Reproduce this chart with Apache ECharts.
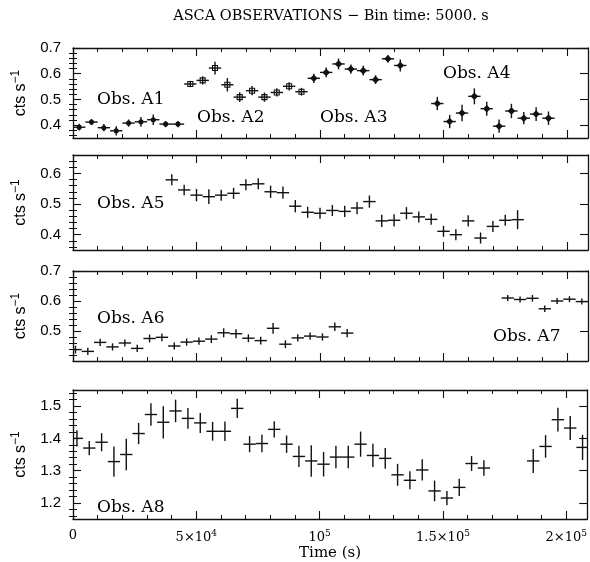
<!DOCTYPE html>
<html><head><meta charset="utf-8">
<script src="https://cdn.jsdelivr.net/npm/echarts@6/dist/echarts.min.js"></script>
<style>html,body{margin:0;padding:0;background:#fff}#c{width:590px;height:562px}</style>
</head><body><div id="c"></div>
<script>
// ---------- data ----------
const timeA1 = [2500,7500,12500,17500,22500,27500,32500,37500,42500];
const rateA1 = [0.392,0.412,0.390,0.378,0.408,0.413,0.421,0.404,0.404];
const errA1  = [0.013,0.012,0.014,0.018,0.014,0.019,0.020,0.012,0.012];

const timeA2 = [47500,52500,57500,62500,67500,72500,77500,82500,87500,92500];
const rateA2 = [0.560,0.574,0.622,0.557,0.509,0.534,0.509,0.527,0.551,0.530];
const errA2  = [0.012,0.016,0.025,0.026,0.019,0.018,0.018,0.016,0.016,0.015];

const timeA3 = [97500,102500,107500,112500,117500,122500,127500,132500];
const rateA3 = [0.582,0.605,0.638,0.618,0.612,0.577,0.658,0.632];
const errA3  = [0.018,0.019,0.021,0.018,0.019,0.017,0.014,0.023];

const timeA4 = [147500,152500,157500,162500,167500,172500,177500,182500,187500,192500];
const rateA4 = [0.484,0.414,0.447,0.512,0.464,0.396,0.455,0.427,0.443,0.427];
const errA4  = [0.026,0.026,0.032,0.031,0.027,0.026,0.028,0.024,0.027,0.026];

const timeA5 = [40000,45000,50000,55000,60000,65000,70000,75000,80000,85000,90000,95000,100000,105000,110000,115000,120000,125000,130000,135000,140000,145000,150000,155000,160000,165000,170000,175000,180000];
const rateA5 = [0.579,0.546,0.529,0.524,0.529,0.535,0.563,0.566,0.540,0.537,0.493,0.473,0.470,0.479,0.476,0.487,0.508,0.445,0.447,0.470,0.458,0.450,0.411,0.400,0.445,0.389,0.427,0.447,0.449];
const errA5  = [0.018,0.017,0.020,0.024,0.018,0.018,0.018,0.018,0.020,0.020,0.020,0.018,0.018,0.018,0.018,0.020,0.020,0.020,0.020,0.020,0.018,0.018,0.018,0.018,0.018,0.018,0.018,0.018,0.031];

const timeA6 = [1000,6000,11000,16000,21000,26000,31000,36000,41000,46000,51000,56000,61000,66000,71000,76000,81000,86000,91000,96000,101000,106000,111000];
const rateA6 = [0.438,0.432,0.462,0.447,0.460,0.442,0.475,0.479,0.450,0.463,0.466,0.473,0.494,0.491,0.476,0.468,0.509,0.456,0.477,0.483,0.480,0.514,0.493];
const errA6  = [0.013,0.012,0.012,0.012,0.012,0.012,0.013,0.013,0.012,0.012,0.012,0.013,0.015,0.015,0.013,0.013,0.018,0.013,0.012,0.012,0.012,0.014,0.014];

const timeA7 = [176000,181000,186000,191000,196000,201000,206000];
const rateA7 = [0.610,0.605,0.609,0.574,0.600,0.606,0.598];
const errA7  = [0.010,0.010,0.011,0.011,0.010,0.010,0.010];

const timeA8 = [1600,6600,11600,16600,21600,26600,31600,36600,41600,46600,51600,56600,61600,66600,71600,76600,81600,86600,91600,96600,101600,106600,111600,116600,121600,126600,131600,136600,141600,146600,151600,156600,161600,166600,186600,191600,196600,201600,206600];
const rateA8 = [1.400,1.370,1.388,1.328,1.350,1.415,1.474,1.450,1.485,1.462,1.448,1.422,1.422,1.493,1.382,1.384,1.428,1.382,1.344,1.330,1.320,1.342,1.342,1.382,1.347,1.338,1.287,1.270,1.302,1.237,1.215,1.248,1.322,1.308,1.330,1.375,1.458,1.432,1.372];
const errA8  = [0.025,0.022,0.028,0.047,0.049,0.033,0.035,0.050,0.035,0.032,0.031,0.029,0.030,0.030,0.025,0.027,0.025,0.027,0.033,0.049,0.038,0.035,0.035,0.039,0.036,0.032,0.034,0.028,0.033,0.032,0.022,0.027,0.023,0.024,0.037,0.035,0.037,0.037,0.039];

const halfBin = 2500;

const xMajorTicks = [0, 50000, 100000, 150000, 200000];
const xTickLabels = ['0', '5×10{sup|4}', '10{sup|5}', '1.5×10{sup|5}', '2×10{sup|5}'];
const yMajorTicks = [
  [0.4, 0.5, 0.6, 0.7],
  [0.4, 0.5, 0.6],
  [0.5, 0.6, 0.7],
  [1.2, 1.3, 1.4, 1.5]
];
const obsLabels = ['Obs. A1','Obs. A2','Obs. A3','Obs. A4','Obs. A5','Obs. A6','Obs. A7','Obs. A8'];
const titleText = 'ASCA OBSERVATIONS \u2212 Bin time: 5000. s';
const yTitle = 'cts s{sup|\u22121}';
const xTitle = 'Time (s)';

// ---------- layout ----------
const XMAX = 208500;
const panels = [
  {top: 48, height: 90, ymin: 0.35, ymax: 0.70, minorStep: 0.02},
  {top: 155, height: 95, ymin: 0.35, ymax: 0.66, minorStep: 0.02},
  {top: 271, height: 90, ymin: 0.40, ymax: 0.70, minorStep: 0.02},
  {top: 390, height: 135, ymin: 1.15, ymax: 1.55, minorStep: 0.02}
];
function minorList(lo, hi, step, majors) {
  const out = [];
  const start = Math.ceil(lo / step - 1e-6);
  for (let k = start; k * step <= hi + 1e-9; k++) {
    const v = +(k * step).toFixed(6);
    if (v <= lo + 1e-9 || v >= hi - 1e-9) continue;
    if (majors.some(m => Math.abs(m - v) < 1e-6)) continue;
    out.push(v);
  }
  return out;
}
const xMinorTicks = minorList(0, XMAX, 10000, xMajorTicks);

const INK = '#111';
const grids = [], xAxes = [], yAxes = [];
panels.forEach((p, i) => {
  grids.push({left: 73, right: 2, top: p.top, height: p.height});
  const last = i === 3;
  const base = {type: 'value', gridIndex: i, min: 0, max: XMAX, splitLine: {show: false}};
  xAxes.push(Object.assign({}, base, {
    position: 'bottom',
    axisLine: {show: true, onZero: false, lineStyle: {color: INK, width: 1.3}},
    axisTick: {show: true, inside: true, length: 8, customValues: xMajorTicks, lineStyle: {color: INK, width: 1.1}},
    axisLabel: last ? {
      show: true, customValues: xMajorTicks, margin: 10, color: '#000',
      fontFamily: 'DejaVu Serif', fontSize: 13,
      formatter: v => { const k = xMajorTicks.indexOf(v); return k >= 0 ? xTickLabels[k] : ''; },
      rich: {sup: {fontSize: 9, fontFamily: 'DejaVu Serif', padding: [0, 0, 8, 0], color: '#000'}}
    } : {show: false},
    name: last ? xTitle : '', nameLocation: 'middle', nameGap: 27,
    nameTextStyle: {fontFamily: 'DejaVu Serif', fontSize: 15, color: '#000'}
  }));
  xAxes.push(Object.assign({}, base, {
    position: 'bottom', axisLine: {show: false}, axisLabel: {show: false},
    axisTick: {show: true, inside: true, length: 4, customValues: xMinorTicks, lineStyle: {color: INK, width: 1}}
  }));
  xAxes.push(Object.assign({}, base, {
    position: 'top',
    axisLine: {show: true, onZero: false, lineStyle: {color: INK, width: 1.3}},
    axisTick: {show: true, inside: true, length: 8, customValues: xMajorTicks, lineStyle: {color: INK, width: 1.1}},
    axisLabel: {show: false}
  }));
  xAxes.push(Object.assign({}, base, {
    position: 'top', axisLine: {show: false}, axisLabel: {show: false},
    axisTick: {show: true, inside: true, length: 4, customValues: xMinorTicks, lineStyle: {color: INK, width: 1}}
  }));

  const ybase = {type: 'value', gridIndex: i, min: p.ymin, max: p.ymax, splitLine: {show: false}};
  const yMinor = minorList(p.ymin, p.ymax, p.minorStep, yMajorTicks[i]);
  yAxes.push(Object.assign({}, ybase, {
    position: 'left',
    axisLine: {show: true, onZero: false, lineStyle: {color: INK, width: 1.3}},
    axisTick: {show: true, inside: true, length: 8, customValues: yMajorTicks[i], lineStyle: {color: INK, width: 1.1}},
    axisLabel: {show: true, customValues: yMajorTicks[i], margin: 12, color: '#000',
      fontFamily: 'Liberation Sans', fontSize: 15, formatter: v => v.toFixed(1)},
    name: yTitle, nameLocation: 'middle', nameGap: 41, nameRotate: 90,
    nameTextStyle: {fontFamily: 'Liberation Sans', fontSize: 16, color: '#000',
      rich: {sup: {fontFamily: 'Liberation Sans', fontSize: 12, padding: [0, 0, 10, 0], color: '#000'}}}
  }));
  yAxes.push(Object.assign({}, ybase, {
    position: 'left', axisLine: {show: false}, axisLabel: {show: false},
    axisTick: {show: true, inside: true, length: 4, customValues: yMinor, lineStyle: {color: INK, width: 1}}
  }));
  yAxes.push(Object.assign({}, ybase, {
    position: 'right',
    axisLine: {show: true, onZero: false, lineStyle: {color: INK, width: 1.3}},
    axisTick: {show: true, inside: true, length: 8, customValues: yMajorTicks[i], lineStyle: {color: INK, width: 1.1}},
    axisLabel: {show: false}
  }));
  yAxes.push(Object.assign({}, ybase, {
    position: 'right', axisLine: {show: false}, axisLabel: {show: false},
    axisTick: {show: true, inside: true, length: 4, customValues: yMinor, lineStyle: {color: INK, width: 1}}
  }));
});

function errData(t, r, e) { return t.map((x, k) => [x, r[k], halfBin, e[k]]); }
function errRender(params, api) {
  const x = api.value(0), y = api.value(1), ex = api.value(2), ey = api.value(3);
  const l = api.coord([x - ex, y]), r = api.coord([x + ex, y]);
  const t = api.coord([x, y + ey]), b = api.coord([x, y - ey]);
  const st = {stroke: INK, lineWidth: 1.4};
  return {type: 'group', children: [
    {type: 'line', shape: {x1: l[0], y1: l[1], x2: r[0], y2: r[1]}, style: st},
    {type: 'line', shape: {x1: t[0], y1: t[1], x2: b[0], y2: b[1]}, style: st}
  ]};
}
function errSeries(panel, t, r, e) {
  return {type: 'custom', xAxisIndex: panel * 4, yAxisIndex: panel * 4, clip: true,
    renderItem: errRender, data: errData(t, r, e), silent: true, animation: false};
}
function markSeries(t, r, symbol, size, fill) {
  return {type: 'scatter', xAxisIndex: 0, yAxisIndex: 0, symbol: symbol, symbolSize: size,
    itemStyle: {color: fill, borderColor: INK, borderWidth: 1.1, opacity: 1},
    data: t.map((x, k) => [x, r[k]]), silent: true, animation: false, z: 5};
}

const series = [
  errSeries(0, timeA1, rateA1, errA1),
  errSeries(0, timeA2, rateA2, errA2),
  errSeries(0, timeA3, rateA3, errA3),
  errSeries(0, timeA4, rateA4, errA4),
  markSeries(timeA1, rateA1, 'circle', 4, INK),
  markSeries(timeA2, rateA2, 'rect', 5, 'rgba(0,0,0,0)'),
  markSeries(timeA3, rateA3, 'diamond', 6, INK),
  markSeries(timeA4, rateA4, 'diamond', 6, INK),
  errSeries(1, timeA5, rateA5, errA5),
  errSeries(2, timeA6, rateA6, errA6),
  errSeries(2, timeA7, rateA7, errA7),
  errSeries(3, timeA8, rateA8, errA8)
];

const obsPos = [[97, 91], [197, 109], [320, 109], [443, 65], [97, 195], [97, 310], [493, 328], [97, 499]];
const txt = (x, y, s) => ({type: 'text', left: x, top: y, silent: true,
  style: {text: s, fill: '#000', font: '17px "DejaVu Serif"'}});

const chart = echarts.init(document.getElementById('c'), null, {renderer: 'canvas'});
chart.setOption({
  animation: false,
  backgroundColor: '#fff',
  grid: grids, xAxis: xAxes, yAxis: yAxes, series: series,
  graphic: [
    {type: 'text', x: 331, y: 9, silent: true,
      style: {text: titleText, fill: '#000', font: '14.5px "DejaVu Serif"', textAlign: 'center'}}
  ].concat(obsLabels.map((s, k) => txt(obsPos[k][0], obsPos[k][1], s)))
});
</script></body></html>
